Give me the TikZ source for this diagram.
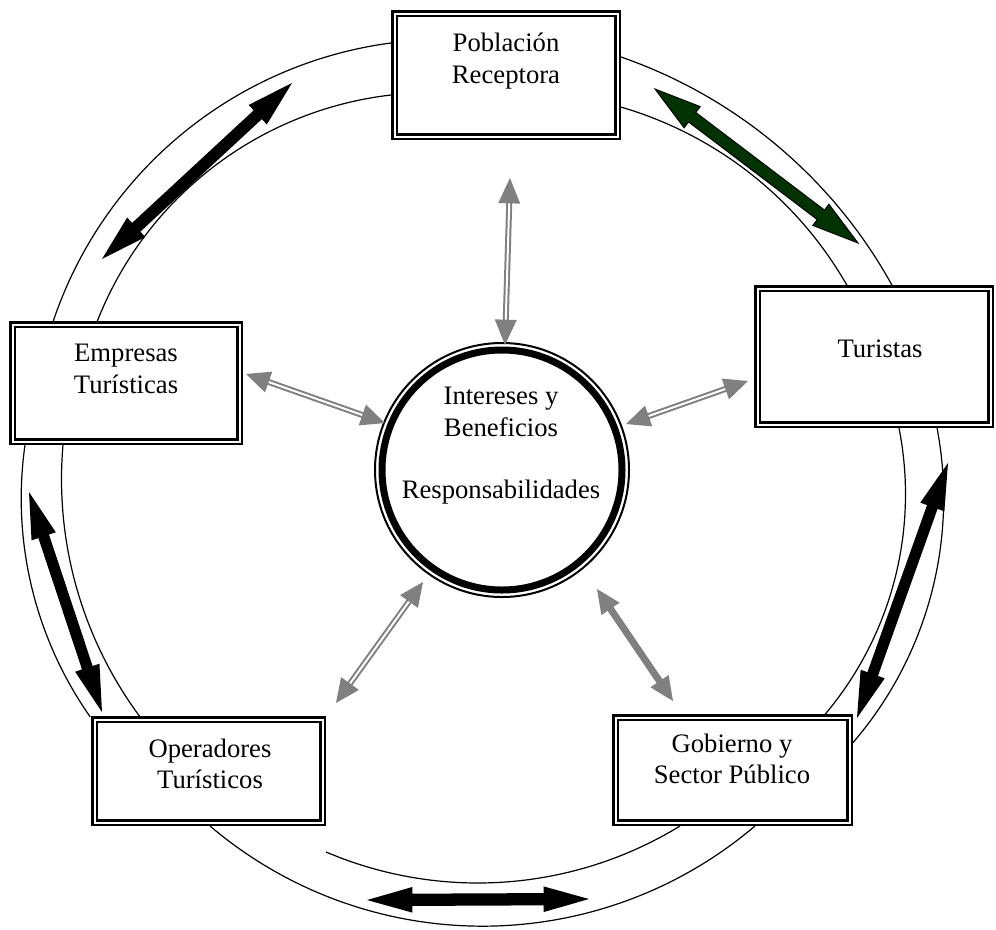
\documentclass[tikz,border=0pt]{standalone}
\usepackage{fontspec}
\setmainfont{Liberation Serif}
\usetikzlibrary{calc}
\definecolor{arrgray}{RGB}{128,128,128}
\definecolor{arrgreen}{RGB}{0,51,0}

% Double-headed block arrow between two tips.
% [#1] style, #2 #3 tips, #4 head length, #5 head half width, #6 shaft half width
\newcommand\blockarrow[6][]{%
  \coordinate (ba1) at ($(#2)!#4!(#3)$);
  \coordinate (ba2) at ($(#3)!#4!(#2)$);
  \path[#1] (#2)
    -- ($(ba1)!#5!90:(#3)$) -- ($(ba1)!#6!90:(#3)$)
    -- ($(ba2)!#6!-90:(#2)$) -- ($(ba2)!#5!-90:(#2)$)
    -- (#3)
    -- ($(ba2)!#5!90:(#2)$) -- ($(ba2)!#6!90:(#2)$)
    -- ($(ba1)!#6!-90:(#3)$) -- ($(ba1)!#5!-90:(#3)$)
    -- cycle;}

% Thin double-headed arrow: shaft style [#1], tips #2 #3, head length #4, head half width #5
\newcommand\linkarrow[5][]{%
  \coordinate (la1) at ($(#2)!#4!(#3)$);
  \coordinate (la2) at ($(#3)!#4!(#2)$);
  \draw[#1] ($(#2)!0.5*#4!(#3)$) -- ($(#3)!0.5*#4!(#2)$);
  \fill[arrgray] (#2) -- ($(la1)!#5!90:(#3)$) -- ($(la1)!#5!-90:(#3)$) -- cycle;
  \fill[arrgray] (#3) -- ($(la2)!#5!90:(#2)$) -- ($(la2)!#5!-90:(#2)$) -- cycle;}

% Circular ring segment: centre (#1,#2), radius #3, from angle #4 to #5 (y pointing down)
\newcommand\ringarc[5]{%
  \draw[ring] plot[domain=#4:#5, samples=80] ({#1+#3*cos(\x)},{#2+#3*sin(\x)});}

\begin{document}
\begin{tikzpicture}[x=0.75pt,y=-0.75pt,
  every node/.style={font=\fontsize{20}{23.5}\selectfont},
  frame/.style={draw=black, line width=1.9pt, double=white,
    double distance=1.5pt, inner sep=0pt, fill=white},
  ring/.style={line width=0.9pt},
  caption/.style={align=center, inner sep=0pt},
  twoline/.style={draw=arrgray, line width=1.5pt, double=white, double distance=1.5pt},
  solidline/.style={draw=arrgray, line width=5.25pt}]
\useasboundingbox (0,0) rectangle (996,929);

% ring segments between neighbouring boxes
\ringarc{445.1}{452.8}{413.4}{-161.55}{-97.5}
\ringarc{432.3}{452.4}{359.8}{-158.75}{-96.6}
\ringarc{459.0}{524.4}{494.7}{-70.9}{-28.68}
\ringarc{513.1}{476.2}{384.6}{-73.7}{-29.46}
\ringarc{569.3}{498.3}{374.4}{-10.8}{40.78}
\ringarc{564.3}{494.3}{341.2}{-11.2}{40.25}
\ringarc{401.3}{498.5}{380.1}{144.93}{188.1}
\ringarc{460.5}{479.2}{399.0}{143.43}{184.92}
\ringarc{482.5}{505.5}{420.7}{49.63}{130.37}
\ringarc{477.8}{495.8}{387.2}{58.52}{113.08}

% stakeholder boxes
\node[frame, minimum width=167.25pt, minimum height=92.25pt] (pob) at (506,75) {};
\node[frame, minimum width=174.75pt, minimum height=102pt] (tur) at (874,356.5) {};
\node[frame, minimum width=170.25pt, minimum height=87.75pt] (emp) at (126,383) {};
\node[frame, minimum width=171pt, minimum height=77.25pt] (ope) at (208.5,771) {};
\node[frame, minimum width=175.5pt, minimum height=78.75pt] (gob) at (732.5,770) {};

\node[caption] (pobtxt) at (506,61) {Población\\Receptora};
\node[caption] (turtxt) at (880,349) {Turistas};
\node[caption] (emptxt) at (126,369) {Empresas\\Turísticas};
\node[caption] (opetxt) at (210,764) {Operadores\\Turísticos};
\node[caption] (gobtxt) at (732,759) {Gobierno y\\Sector Público};

% central circle
\node[circle, draw, line width=5.25pt, minimum size=180pt, inner sep=0pt] (core) at (502,470) {};
\draw[line width=1.5pt] (core.center) circle[radius=95.25pt];
\node[caption] (coretxt) at (501,446) {Intereses y\\Beneficios\\[23.5pt]Responsabilidades};

% block arrows along the ring
\coordinate (a1) at (292,83);  \coordinate (a2) at (102,259);
\coordinate (b1) at (655,89);  \coordinate (b2) at (858,243);
\coordinate (c1) at (29,492);  \coordinate (c2) at (102,712);
\coordinate (d1) at (948,463); \coordinate (d2) at (857,718);
\coordinate (e1) at (367,900); \coordinate (e2) at (589,899);
\blockarrow[fill=black]{a1}{a2}{35pt}{10pt}{4.5pt}
\blockarrow[fill=arrgreen, draw=black, line width=0.7pt]{b1}{b2}{35pt}{10pt}{4.5pt}
\blockarrow[fill=black]{c1}{c2}{35pt}{9.6pt}{4.2pt}
\blockarrow[fill=black]{d1}{d2}{35pt}{9.6pt}{4.2pt}
\blockarrow[fill=black]{e1}{e2}{34pt}{9.6pt}{4.6pt}

% links between the boxes and the centre
\coordinate (p1) at (510,178); \coordinate (p2) at (505,345);
\coordinate (q1) at (246,374); \coordinate (q2) at (385,423);
\coordinate (r1) at (748,381); \coordinate (r2) at (626,424);
\coordinate (s1) at (336,703); \coordinate (s2) at (423,582);
\coordinate (t1) at (673,701); \coordinate (t2) at (597,589);
\linkarrow[twoline]{p1}{p2}{19pt}{8.25pt}
\linkarrow[twoline]{q1}{q2}{18pt}{8.25pt}
\linkarrow[twoline]{r1}{r2}{18pt}{8.25pt}
\linkarrow[twoline]{s1}{s2}{18pt}{8.25pt}
\linkarrow[solidline]{t1}{t2}{18pt}{8.25pt}
\end{tikzpicture}
\end{document}
